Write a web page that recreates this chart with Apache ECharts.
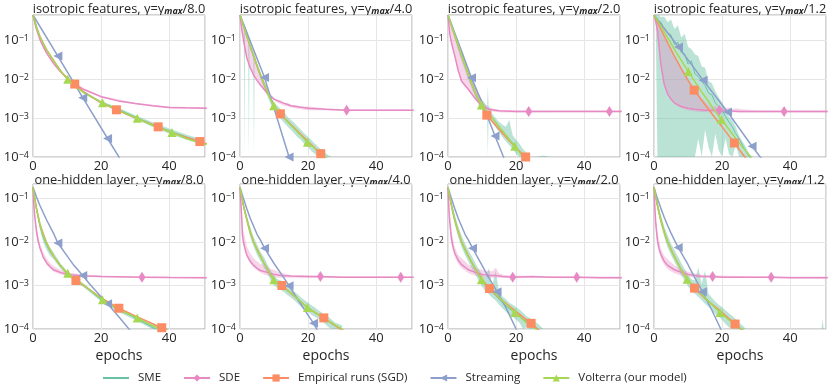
<!DOCTYPE html>
<html><head><meta charset="utf-8">
<script src="https://cdn.jsdelivr.net/npm/echarts@6/dist/echarts.min.js"></script>
<style>html,body{margin:0;padding:0;background:#fff}#c{width:830px;height:389px}</style>
</head><body><div id="c"></div>
<script>
// ---------------- titles / labels ----------------
const ROW_TITLES = ['isotropic features', 'one-hidden layer'];
const GAMMA_DIV = ['8.0', '4.0', '2.0', '1.2'];
const LEGEND_NAMES = ['SME', 'SDE', 'Empirical runs (SGD)', 'Streaming', 'Volterra (our model)'];
const X_TICKS = [0, 20, 40];

// ---------------- panel 1: isotropic, /8.0 ----------------
const p1_volX = [0,1,2,3,4,6,8,10.2,12,15,20.4,25,30.6,35,40.8,45,51];
const p1_volY = [0.46,0.22,0.13,0.085,0.058,0.031,0.017,0.0102,0.0071,0.0045,0.0025,0.0016,0.001,0.00066,0.00043,0.0003,0.00021];
const p1_volMk = [10.2,20.4,30.6,40.8];
const p1_sgdX = [0,1,2,3,4,6,8,10,12.25,15,20,24.5,30,36.75,40,45,49,51];
const p1_sgdY = [0.46,0.22,0.13,0.085,0.058,0.031,0.017,0.0105,0.0076,0.0047,0.0025,0.00165,0.00102,0.0006,0.00045,0.00032,0.00025,0.00022];
const p1_sgdMk = [12.25,24.5,36.75,49];
const p1_strX = [0,7.3,14.6,21.9,29.2];
const p1_strY = [0.46,0.04,0.0034,0.0003,0.000027];
const p1_strMk = [7.3,14.6,21.9];
const p1_sdeX = [0,0.5,1,2,3,4,6,8,10,12,15,20,25,30,35,40,45,51];
const p1_sdeY = [0.46,0.3,0.2,0.11,0.07,0.048,0.026,0.016,0.011,0.0078,0.0055,0.0036,0.0028,0.0024,0.0021,0.0019,0.00185,0.0018];
const p1_sdeMk = [];
const p1_sdeBX = [0,1,2,4,6,8,10,15,20,30,40,51];
const p1_sdeLo = [0.45,0.19,0.105,0.046,0.025,0.0153,0.0105,0.0052,0.0034,0.0023,0.0018,0.0017];
const p1_sdeHi = [0.47,0.21,0.115,0.05,0.027,0.0167,0.0115,0.0058,0.0038,0.0025,0.002,0.0019];
const p1_smeX = [0,2,4,6,8,10,12,15,20,25,30,35,40,45,50];
const p1_smeY = [0.46,0.13,0.058,0.031,0.017,0.0105,0.0073,0.0046,0.0026,0.0017,0.00108,0.0007,0.00047,0.00033,0.00024];
const p1_smeLo = [0.44,0.12,0.054,0.029,0.016,0.0098,0.0068,0.0043,0.0024,0.0015,0.00095,0.0006,0.0004,0.00028,0.0002];
const p1_smeHi = [0.48,0.14,0.062,0.033,0.018,0.0112,0.0078,0.005,0.0028,0.0019,0.0012,0.0008,0.00054,0.00038,0.00028];

// ---------------- panel 2: isotropic, /4.0 ----------------
const p2_volX = [0,2,4,6,8,9.9,12,15,19.8,25,30];
const p2_volY = [0.46,0.13,0.04,0.013,0.0048,0.0021,0.00125,0.00066,0.00024,0.0001,0.000045];
const p2_volMk = [9.9,19.8];
const p2_sgdX = [0,2,4,6,8,10,11.85,15,20,23.7,27];
const p2_sgdY = [0.46,0.13,0.04,0.013,0.0048,0.0021,0.0013,0.00068,0.00025,0.000122,0.00006];
const p2_sgdMk = [11.85,23.7];
const p2_strX = [0,2,4,6,7.2,8,10,12,14.4,16];
const p2_strY = [0.46,0.164,0.058,0.021,0.0112,0.0066,0.0018,0.00048,0.0001,0.000035];
const p2_strMk = [7.2,14.4];
const p2_sdeX = [0,0.5,1,1.5,2,3,4,5,6,8,10,12,15,20,25,31.3,40,51];
const p2_sdeY = [0.46,0.2,0.11,0.06,0.036,0.02,0.013,0.0095,0.0072,0.0044,0.0031,0.0026,0.0021,0.0018,0.0017,0.0016,0.0016,0.0016];
const p2_sdeMk = [31.3];
const p2_sdeBX = [0,1,2,3,4,5,6,7,8,9,10,11,12,13,14,15,16,18,20,25,30,40,51];
const p2_sdeLo = [0.45,0.1,0.034,0.019,0.012,0.009,0.0068,0.0055,0.0042,0.0035,0.0029,0.0025,0.0023,0.0021,0.002,0.0019,0.0018,0.0017,0.0016,0.0016,0.00155,0.00155,0.00155];
const p2_sdeHi = [0.46,0.25,0.14,0.075,0.042,0.025,0.015,0.009,0.0058,0.0042,0.0034,0.003,0.0029,0.0024,0.0025,0.0022,0.0022,0.002,0.002,0.0018,0.0017,0.00168,0.00168];
const p2_smeX = [0,1,1.1,1.3,1.5,2,2.4,2.6,2.8,3,3.5,3.9,4.1,4.3,5,6,7,8,9,10,11,12,13,14,15,16,17,18,19,20,21,22,23,24,25,26,27,28];
const p2_smeY = [0.46,0.25,0.24,0.22,0.2,0.13,0.11,0.1,0.085,0.07,0.055,0.043,0.04,0.036,0.022,0.013,0.0078,0.0048,0.003,0.0021,0.0016,0.00125,0.001,0.0008,0.00066,0.00054,0.00044,0.00036,0.00029,0.00024,0.0002,0.00016,0.00013,0.00011,0.0001,0.00008,0.000065,0.00005];
const p2_smeLo = [0.42,0.22,0.21,1e-6,0.18,0.11,0.095,1e-6,0.075,0.06,0.047,0.036,1e-6,0.03,0.018,0.0105,0.006,0.0038,0.0023,0.0016,0.0012,0.00095,0.00075,0.0006,0.0005,0.0004,0.00032,0.00027,0.00021,0.00018,0.00014,0.00012,0.0001,0.00008,0.00007,0.00006,0.00005,0.00004];
const p2_smeHi = [0.5,0.29,0.28,0.27,0.25,0.16,0.13,0.12,0.1,0.085,0.065,0.052,0.05,0.045,0.027,0.016,0.0095,0.006,0.0036,0.0026,0.0021,0.0017,0.0014,0.0011,0.0009,0.00075,0.0006,0.00049,0.0004,0.00033,0.00027,0.00022,0.00018,0.00015,0.00013,0.00011,0.00009,0.00007];

// ---------------- panel 3: isotropic, /2.0 ----------------
const p3_volX = [0,2,4,6,8,9.8,12,15,19.6,22,25];
const p3_volY = [0.46,0.14,0.042,0.013,0.0045,0.0022,0.0013,0.0006,0.00019,0.0001,0.00005];
const p3_volMk = [9.8,19.6];
const p3_sgdX = [0,2,4,6,8,10,11.4,14,17,20,22.8,25];
const p3_sgdY = [0.46,0.14,0.042,0.013,0.0045,0.0019,0.0012,0.00065,0.00033,0.00017,0.0001,0.00006];
const p3_sgdMk = [11.4,22.8];
const p3_strX = [0,2,4,6.9,10,13.8,16.3,18];
const p3_strY = [0.46,0.156,0.053,0.011,0.0025,0.00035,0.0001,0.00004];
const p3_strMk = [6.9,13.8];
const p3_sdeX = [0,0.5,1,2,3,4,6,8,10,12,15,20,23.7,30,40,47.4,51];
const p3_sdeY = [0.46,0.15,0.09,0.04,0.017,0.009,0.0055,0.0032,0.0021,0.0017,0.00155,0.0015,0.0015,0.0015,0.0015,0.0015,0.0015];
const p3_sdeMk = [23.7,47.4];
const p3_sdeBX = [0,1,2,3,4,5,6,7,8,9,10,11,12,13,14,16,20,30,51];
const p3_sdeLo = [0.44,0.085,0.038,0.016,0.0085,0.0065,0.0052,0.004,0.003,0.0025,0.002,0.0017,0.0016,0.0015,0.00145,0.0014,0.0014,0.00142,0.00142];
const p3_sdeHi = [0.46,0.26,0.15,0.08,0.045,0.026,0.016,0.011,0.0075,0.0045,0.003,0.0022,0.0019,0.0018,0.0017,0.0016,0.0016,0.0016,0.0016];
const p3_smeX = [0,1,2,3,4,5,6,7,8,9,10,11,11.5,11.7,11.9,12.5,13,14,15,16,17,18,19,20,21,22,23,24,25,26,28,30];
const p3_smeY = [0.46,0.26,0.14,0.075,0.042,0.023,0.013,0.0078,0.0045,0.0029,0.0021,0.0016,0.0015,0.0014,0.0014,0.0012,0.001,0.0008,0.0006,0.00047,0.00037,0.00029,0.00023,0.00018,0.00014,0.0001,0.00008,0.00006,0.00005,0.00004,0.00003,0.00002];
const p3_smeLo = [0.42,0.2,0.11,0.055,0.03,0.017,0.0095,0.0058,0.0035,0.0022,0.0016,0.0012,0.0011,1e-6,0.001,0.0009,0.00075,0.00058,0.00043,0.00033,0.00025,0.0002,0.00016,0.00012,0.00009,0.00007,0.00006,0.00005,0.00004,0.00003,0.00002,0.00002];
const p3_smeHi = [0.48,0.3,0.17,0.1,0.055,0.031,0.018,0.011,0.0065,0.0042,0.003,0.0023,0.0021,0.007,0.0021,0.0017,0.0013,0.001,0.0008,0.00068,0.0006,0.0009,0.00036,0.00028,0.00022,0.00016,0.00013,0.0001,0.00009,0.00007,0.00011,0.00006];

// ---------------- panel 4: isotropic, /1.2 ----------------
const p4_volX = [0,2,4,6,8,10.1,12,14,16,18,19.8,22,24,26,28,30];
const p4_volY = [0.46,0.24,0.12,0.06,0.031,0.016,0.0088,0.0048,0.0027,0.0015,0.00093,0.00052,0.0003,0.00018,0.00011,0.00006];
const p4_volMk = [10.1,19.8];
const p4_sgdX = [0,2,4,6,8,10,11.8,14,16,18,20,22,23.6,26,28];
const p4_sgdY = [0.46,0.2,0.088,0.04,0.019,0.0095,0.0053,0.0029,0.0017,0.001,0.0006,0.00035,0.00023,0.00012,0.00007];
const p4_sgdMk = [11.8,23.6];
const p4_strX = [0,7.2,14.4,21.6,28.8,32];
const p4_strY = [0.46,0.069,0.0096,0.00145,0.00019,0.00008];
const p4_strMk = [7.2,14.4,21.6,28.8];
const p4_sdeX = [0,0.5,1,1.5,2,3,4,5,6,8,10,12,15,19.2,25,30,38.2,51];
const p4_sdeY = [0.46,0.32,0.19,0.07,0.025,0.0075,0.0042,0.0031,0.0025,0.002,0.0018,0.0017,0.0016,0.0016,0.0015,0.0015,0.0015,0.0015];
const p4_sdeMk = [19.2,38.2];
const p4_sdeBX = [0,1,2,3,4,6,8,10,12,14,16,17,18,19,20,21,22,23,24,26,30,40,51];
const p4_sdeLo = [0.45,0.15,0.022,0.0068,0.0039,0.0023,0.0018,0.0016,0.0015,0.00145,0.00142,0.00142,0.0014,0.0014,0.0014,0.0014,0.0014,0.0014,0.0014,0.0014,0.0014,0.0014,0.0014];
const p4_sdeHi = [0.46,0.33,0.2,0.13,0.09,0.042,0.02,0.0105,0.0058,0.0034,0.0022,0.0019,0.0021,0.0019,0.002,0.0018,0.0019,0.0017,0.0018,0.0017,0.0016,0.0016,0.0016];
const p4_smeX = [0,0.5,1,1.5,2,3,4,5,6,7,8,9,10,11,12,13,14,15,16,17,18,19,20,21,22,23,24,25,26,27,28,29];
const p4_smeY = [0.46,0.38,0.32,0.3,0.3,0.2,0.16,0.14,0.08,0.09,0.05,0.045,0.025,0.03,0.014,0.012,0.009,0.007,0.0045,0.004,0.0025,0.002,0.0016,0.0011,0.0008,0.0006,0.0004,0.0003,0.0002,0.00014,0.0001,0.00007];
const p4_smeLo = [0.44,0.3,1e-6,1e-6,1e-6,1e-6,1e-6,1e-6,1e-6,1e-6,1e-6,1e-6,1e-6,1e-6,1e-6,0.0003,1e-6,0.0005,0.00018,1e-6,0.0004,0.00015,1e-6,0.0003,0.00012,1e-6,0.0002,0.0001,1e-6,0.00008,0.00006,0.00005];
const p4_smeHi = [0.47,0.46,0.46,0.46,0.4,0.42,0.3,0.35,0.2,0.25,0.12,0.15,0.07,0.06,0.045,0.04,0.022,0.02,0.009,0.008,0.005,0.0035,0.0025,0.0018,0.0011,0.0009,0.0006,0.00035,0.00025,0.00018,0.00012,0.00009];

// ---------------- panel 5: one-hidden layer, /8.0 ----------------
const p5_volX = [0,0.5,1,2,3,4,6,8,10.2,12,15,20.4,25,30.6,35,40,45,51];
const p5_volY = [0.18,0.1,0.06,0.026,0.014,0.0092,0.0048,0.0029,0.0019,0.0015,0.001,0.00047,0.00028,0.00018,0.00012,0.00008,0.00005,0.00003];
const p5_volMk = [10.2,20.4,30.6];
const p5_sgdX = [0,1,2,4,6,8,10,12.6,15,20,25.2,30,37.8,40,45];
const p5_sgdY = [0.18,0.06,0.026,0.0092,0.0048,0.0029,0.0019,0.0013,0.00098,0.00052,0.0003,0.0002,0.000107,0.00009,0.00007];
const p5_sgdMk = [12.6,25.2,37.8];
const p5_strX = [0,1,2,4,6,7.3,10,12,14.6,17,20,21.9,25,29.2];
const p5_strY = [0.18,0.11,0.07,0.032,0.016,0.0095,0.0048,0.0029,0.0017,0.001,0.00055,0.00038,0.0002,0.00008];
const p5_strMk = [7.3,14.6,21.9];
const p5_sdeX = [0,0.25,0.5,1,1.5,2,3,4,5,6,8,10,15,20,25,32,40,51];
const p5_sdeY = [0.18,0.07,0.04,0.018,0.0105,0.0075,0.0045,0.0033,0.0027,0.0023,0.002,0.0018,0.00165,0.0016,0.00158,0.00155,0.00152,0.0015];
const p5_sdeMk = [32];
const p5_sdeBX = [0,0.5,1,2,3,4,5,6,8,10,15,20,30,51];
const p5_sdeLo = [0.17,0.034,0.015,0.0065,0.0041,0.003,0.0025,0.0021,0.0018,0.0017,0.0016,0.00155,0.0015,0.00145];
const p5_sdeHi = [0.19,0.05,0.024,0.0095,0.0058,0.0042,0.0033,0.0028,0.0023,0.002,0.0018,0.0017,0.0016,0.00158];
const p5_smeX = [0,1,2,3,4,5,6,8,10,12,15,20,25,30,35,40];
const p5_smeY = [0.18,0.058,0.024,0.013,0.0085,0.006,0.0047,0.0029,0.0019,0.0014,0.00098,0.00047,0.00028,0.00018,0.00011,0.00007];
const p5_smeLo = [0.17,0.05,0.02,0.01,0.0065,0.0048,0.004,0.0025,0.0017,0.0013,0.0009,0.00043,0.00025,0.00016,0.0001,0.00007];
const p5_smeHi = [0.19,0.065,0.03,0.017,0.011,0.0075,0.0058,0.0033,0.0021,0.0016,0.0011,0.00052,0.00031,0.0002,0.00013,0.00009];

// ---------------- panel 6: one-hidden layer, /4.0 ----------------
const p6_volX = [0,0.5,1,2,3,4,5,6,8,9.9,12,15,19.8,25,29.7,33];
const p6_volY = [0.18,0.11,0.07,0.033,0.017,0.01,0.0066,0.0047,0.0024,0.00135,0.001,0.00067,0.00031,0.00017,0.000102,0.00007];
const p6_volMk = [9.9,19.8];
const p6_sgdX = [0,1,2,3,4,6,8,10,12.3,15,20,24.6,28,31];
const p6_sgdY = [0.18,0.07,0.033,0.017,0.01,0.0047,0.0024,0.0013,0.001,0.00066,0.0003,0.00018,0.00012,0.00008];
const p6_sgdMk = [12.3,24.6];
const p6_strX = [0,1,2,3,4,5,6,7.2,10,12,14.4,17,21.6,24];
const p6_strY = [0.18,0.1,0.058,0.035,0.023,0.015,0.011,0.0072,0.0032,0.0019,0.00099,0.00047,0.000135,0.00006];
const p6_strMk = [7.2,14.4,21.6];
const p6_sdeX = [0,0.25,0.5,0.7,1,1.5,2,3,4,5,6,8,10,12,15,20,23.6,30,40,47.2,51];
const p6_sdeY = [0.18,0.08,0.035,0.015,0.01,0.0068,0.005,0.0036,0.0029,0.0025,0.0022,0.002,0.0018,0.0017,0.00165,0.0016,0.0016,0.00155,0.00155,0.00155,0.00155];
const p6_sdeMk = [23.6,47.2];
const p6_sdeBX = [0,0.5,1,2,3,4,5,6,7,8,9,10,11,12,13,14,16,20,30,51];
const p6_sdeLo = [0.17,0.028,0.009,0.0045,0.0032,0.0026,0.0022,0.002,0.0018,0.0017,0.0016,0.0016,0.0015,0.0015,0.0015,0.0015,0.0015,0.00148,0.00148,0.00148];
const p6_sdeHi = [0.19,0.05,0.018,0.008,0.0055,0.0042,0.0036,0.0031,0.003,0.0027,0.0024,0.0023,0.0021,0.002,0.0019,0.0018,0.0017,0.0017,0.0016,0.0016];
const p6_smeX = [0,1,2,3,4,5,6,7,8,9,10,11,12,13,14,15,16,17,18,19,20,21,22,23,24,25,26,27,28,29,30];
const p6_smeY = [0.18,0.07,0.033,0.017,0.01,0.0066,0.0047,0.0034,0.0024,0.0017,0.0013,0.0011,0.001,0.0009,0.00075,0.00067,0.00057,0.00048,0.0004,0.00035,0.00031,0.00027,0.00024,0.00021,0.00019,0.00017,0.00015,0.00013,0.00012,0.00011,0.0001];
const p6_smeLo = [0.17,0.058,0.027,0.013,0.0078,0.005,0.0036,0.0026,0.0019,0.0013,0.001,0.00088,0.00078,0.0007,0.0006,0.00053,0.00045,0.00038,0.00032,0.00028,0.00025,0.00021,0.00019,0.00017,0.00015,0.00013,0.00011,0.0001,0.00009,0.00008,0.00007];
const p6_smeHi = [0.19,0.08,0.04,0.022,0.013,0.0088,0.006,0.0045,0.0031,0.0022,0.0017,0.0014,0.0013,0.0011,0.001,0.00085,0.00072,0.00062,0.00052,0.00046,0.0004,0.00035,0.00031,0.00027,0.00024,0.00021,0.00019,0.00016,0.00014,0.00013,0.00012];

// ---------------- panel 7: one-hidden layer, /2.0 ----------------
const p7_volX = [0,0.5,1,2,3,4,5,6,8,9.8,12,15,19.6,23,27,30];
const p7_volY = [0.18,0.11,0.07,0.032,0.017,0.01,0.0066,0.0047,0.0024,0.00135,0.0009,0.00053,0.00024,0.00014,0.000085,0.00006];
const p7_volMk = [9.8,19.6];
const p7_sgdX = [0,1,2,3,4,6,8,10,12.2,15,20,24.4,27];
const p7_sgdY = [0.18,0.07,0.032,0.017,0.01,0.0047,0.0024,0.0014,0.00085,0.00052,0.00025,0.000135,0.00009];
const p7_sgdMk = [12.2,24.4];
const p7_strX = [0,1,2,3,4,5,6,7.2,10,12,14.4,17,20,22];
const p7_strY = [0.18,0.1,0.058,0.035,0.023,0.015,0.011,0.0072,0.0029,0.0015,0.00072,0.00031,0.0001,0.00005];
const p7_strMk = [7.2,14.4];
const p7_sdeX = [0,0.25,0.5,1,1.5,2,3,4,6,8,10,12,14,16,19,25,30,37.8,45,51];
const p7_sdeY = [0.18,0.06,0.03,0.012,0.0075,0.0055,0.0038,0.003,0.0023,0.002,0.0018,0.0017,0.0017,0.0016,0.00155,0.0016,0.00155,0.00155,0.0015,0.0015];
const p7_sdeMk = [19,37.8];
const p7_sdeBX = [0,0.5,1,2,3,4,5,6,7,8,9,10,11,12,13,14,15,16,18,20,30,51];
const p7_sdeLo = [0.17,0.022,0.009,0.0045,0.0031,0.0025,0.0022,0.0019,0.0018,0.0017,0.0016,0.0016,0.0015,0.0015,0.0015,0.0015,0.0015,0.0015,0.0015,0.00148,0.00148,0.00145];
const p7_sdeHi = [0.19,0.045,0.018,0.0075,0.005,0.0042,0.0036,0.003,0.0028,0.0025,0.0024,0.0023,0.0021,0.0022,0.0021,0.0026,0.0019,0.0018,0.0017,0.0017,0.0016,0.0016];
const p7_smeX = [0,1,2,3,4,5,6,7,8,9,10,11,12,13,14,15,16,17,18,19,20,21,22,23,24,25,26,27,28];
const p7_smeY = [0.18,0.07,0.032,0.017,0.01,0.0066,0.0047,0.0034,0.0024,0.0017,0.0013,0.001,0.00085,0.0007,0.0006,0.00048,0.0004,0.00034,0.00029,0.00026,0.00023,0.0002,0.00017,0.00015,0.00013,0.00012,0.0001,0.00009,0.00008];
const p7_smeLo = [0.17,0.055,0.025,0.013,0.0075,0.005,0.0035,0.0025,0.0018,0.0013,0.00095,0.00075,0.00063,0.00052,0.00045,0.00036,0.0003,0.00025,0.00021,0.00019,0.00016,0.00014,1e-6,0.00011,0.00009,1e-6,0.00007,0.00006,0.00005];
const p7_smeHi = [0.19,0.085,0.042,0.023,0.014,0.0092,0.0065,0.0047,0.0033,0.0024,0.0018,0.0015,0.0025,0.001,0.0022,0.00068,0.00056,0.00048,0.0004,0.00036,0.00032,0.00028,0.00024,0.0002,0.00018,0.00016,0.00014,0.00012,0.0001];

// ---------------- panel 8: one-hidden layer, /1.2 ----------------
const p8_volX = [0,0.5,1,2,3,4,5,6,8,9.7,12,15,19.4,23,27,30];
const p8_volY = [0.18,0.11,0.07,0.032,0.017,0.01,0.0066,0.0046,0.0023,0.0014,0.0009,0.00052,0.00024,0.00014,0.000085,0.00006];
const p8_volMk = [9.7,19.4];
const p8_sgdX = [0,1,2,3,4,6,8,10,11.9,15,20,23.8,27];
const p8_sgdY = [0.18,0.07,0.032,0.017,0.01,0.0046,0.0023,0.0013,0.00087,0.0005,0.00024,0.00013,0.00008];
const p8_sgdMk = [11.9,23.8];
const p8_strX = [0,1,2,3,4,5,6,7.1,10,12,14.2,17,19.6,22];
const p8_strY = [0.18,0.1,0.06,0.037,0.024,0.016,0.011,0.0075,0.003,0.0015,0.00072,0.00027,0.0001,0.00004];
const p8_strMk = [7.1,14.2];
const p8_sdeX = [0,0.25,0.5,1,1.5,2,3,4,6,8,10,12,14,17.2,20,25,34.4,40,51];
const p8_sdeY = [0.18,0.06,0.028,0.011,0.007,0.0052,0.0036,0.0029,0.0023,0.002,0.0018,0.0017,0.0016,0.0016,0.00155,0.00155,0.00155,0.0015,0.0015];
const p8_sdeMk = [17.2,34.4];
const p8_sdeBX = [0,0.5,1,2,3,4,5,6,7,8,9,10,12,14,16,20,30,51];
const p8_sdeLo = [0.17,0.02,0.008,0.0042,0.003,0.0024,0.0021,0.0019,0.0018,0.0017,0.0016,0.0016,0.0015,0.0015,0.0015,0.00148,0.00148,0.00145];
const p8_sdeHi = [0.19,0.04,0.017,0.007,0.0048,0.004,0.0034,0.0029,0.0026,0.0024,0.0022,0.0021,0.0019,0.0018,0.0017,0.0017,0.0016,0.0016];
const p8_smeX = [0,1,2,3,4,5,6,7,8,9,10,11,12,13,14,15,16,17,18,19,20,21,22,23,24,25,26,27,28,30,49.2,49.5,49.8,51];
const p8_smeY = [0.18,0.07,0.032,0.017,0.01,0.0066,0.0046,0.0033,0.0023,0.0017,0.0013,0.001,0.0009,0.00075,0.00063,0.00052,0.00044,0.00037,0.00031,0.00027,0.00024,0.0002,0.00017,0.00014,0.00012,0.0001,0.00009,0.000085,0.00007,0.00005,0.00002,0.00002,0.00002,0.00002];
const p8_smeLo = [0.17,0.055,0.025,0.013,0.0075,0.005,0.0035,0.0025,0.0017,0.0013,0.00095,0.00075,0.00065,0.00055,0.00046,0.00038,0.00032,0.00027,0.00022,0.00019,0.00016,0.00013,0.00011,1e-6,0.00009,0.00007,0.00006,0.00005,0.00004,0.00002,0.00002,0.00002,0.00002,0.00002];
const p8_smeHi = [0.19,0.085,0.042,0.023,0.014,0.0092,0.0065,0.0047,0.0033,0.0024,0.0018,0.0014,0.0013,0.0026,0.0011,0.0022,0.00065,0.00052,0.00043,0.00036,0.00032,0.00027,0.00023,0.0002,0.00017,0.00014,0.00012,0.0001,0.00009,0.00005,0.00005,0.00017,0.00005,0.00005];

// ---------------- assembly ----------------
const PANELS = [
  {sme:[p1_smeX,p1_smeY,p1_smeLo,p1_smeHi], sde:[p1_sdeX,p1_sdeY,p1_sdeMk,p1_sdeBX,p1_sdeLo,p1_sdeHi], sgd:[p1_sgdX,p1_sgdY,p1_sgdMk], str:[p1_strX,p1_strY,p1_strMk], vol:[p1_volX,p1_volY,p1_volMk]},
  {sme:[p2_smeX,p2_smeY,p2_smeLo,p2_smeHi], sde:[p2_sdeX,p2_sdeY,p2_sdeMk,p2_sdeBX,p2_sdeLo,p2_sdeHi], sgd:[p2_sgdX,p2_sgdY,p2_sgdMk], str:[p2_strX,p2_strY,p2_strMk], vol:[p2_volX,p2_volY,p2_volMk]},
  {sme:[p3_smeX,p3_smeY,p3_smeLo,p3_smeHi], sde:[p3_sdeX,p3_sdeY,p3_sdeMk,p3_sdeBX,p3_sdeLo,p3_sdeHi], sgd:[p3_sgdX,p3_sgdY,p3_sgdMk], str:[p3_strX,p3_strY,p3_strMk], vol:[p3_volX,p3_volY,p3_volMk]},
  {sme:[p4_smeX,p4_smeY,p4_smeLo,p4_smeHi], sde:[p4_sdeX,p4_sdeY,p4_sdeMk,p4_sdeBX,p4_sdeLo,p4_sdeHi], sgd:[p4_sgdX,p4_sgdY,p4_sgdMk], str:[p4_strX,p4_strY,p4_strMk], vol:[p4_volX,p4_volY,p4_volMk]},
  {sme:[p5_smeX,p5_smeY,p5_smeLo,p5_smeHi], sde:[p5_sdeX,p5_sdeY,p5_sdeMk,p5_sdeBX,p5_sdeLo,p5_sdeHi], sgd:[p5_sgdX,p5_sgdY,p5_sgdMk], str:[p5_strX,p5_strY,p5_strMk], vol:[p5_volX,p5_volY,p5_volMk]},
  {sme:[p6_smeX,p6_smeY,p6_smeLo,p6_smeHi], sde:[p6_sdeX,p6_sdeY,p6_sdeMk,p6_sdeBX,p6_sdeLo,p6_sdeHi], sgd:[p6_sgdX,p6_sgdY,p6_sgdMk], str:[p6_strX,p6_strY,p6_strMk], vol:[p6_volX,p6_volY,p6_volMk]},
  {sme:[p7_smeX,p7_smeY,p7_smeLo,p7_smeHi], sde:[p7_sdeX,p7_sdeY,p7_sdeMk,p7_sdeBX,p7_sdeLo,p7_sdeHi], sgd:[p7_sgdX,p7_sgdY,p7_sgdMk], str:[p7_strX,p7_strY,p7_strMk], vol:[p7_volX,p7_volY,p7_volMk]},
  {sme:[p8_smeX,p8_smeY,p8_smeLo,p8_smeHi], sde:[p8_sdeX,p8_sdeY,p8_sdeMk,p8_sdeBX,p8_sdeLo,p8_sdeHi], sgd:[p8_sgdX,p8_sgdY,p8_sgdMk], str:[p8_strX,p8_strY,p8_strMk], vol:[p8_volX,p8_volY,p8_volMk]}
];

// ---------------- layout & style ----------------
const FONT = 'Open Sans';
const TXT = '#262626';
const C = {sme:'#66c2a5', sde:'#e78ac3', sgd:'#fc8d62', str:'#8da0cb', vol:'#a6d854'};
const COL_LEFT = [33, 240, 448, 654];
const PLOT_W = 172;
const ROW_LAYOUT = [{top:15, h:142, ymax:0.46, titleY:9}, {top:184, h:145, ymax:0.215, titleY:180}];
const YMIN = 1e-4, XMAX = 50.5;

function lineData(xs, ys, mk) {
  return xs.map((x, k) => (mk && mk.indexOf(x) >= 0) ? {value:[x, ys[k]]} : {value:[x, ys[k]], symbol:'none'});
}
function band(i, xs, lo, hi, color, op, ymax) {
  return {
    type:'custom', xAxisIndex:i, yAxisIndex:i, silent:true, z:1,
    data:[[xs[0], Math.min(hi[0], ymax)]],
    renderItem: function (params, api) {
      const cl = v => Math.min(Math.max(v, YMIN), ymax);
      const pts = [];
      for (let k = 0; k < xs.length; k++) pts.push(api.coord([xs[k], cl(hi[k])]));
      for (let k = xs.length - 1; k >= 0; k--) pts.push(api.coord([xs[k], cl(lo[k])]));
      return {type:'polygon', shape:{points:pts}, style:{fill:color, opacity:op}};
    }
  };
}
function line(i, name, xs, ys, mk, color, width, symbol, size, rot) {
  return {
    type:'line', name:name, xAxisIndex:i, yAxisIndex:i, z:2,
    data: lineData(xs, ys, mk),
    showSymbol:true, showAllSymbol:true, symbol:symbol, symbolSize:size, symbolRotate:rot || 0,
    smooth:false,
    lineStyle:{color:color, width:width}, itemStyle:{color:color},
    emphasis:{disabled:true}, clip:true
  };
}

const grids = [], xAxes = [], yAxes = [], series = [], graphics = [];
PANELS.forEach((P, i) => {
  const r = Math.floor(i / 4), c = i % 4;
  const L = ROW_LAYOUT[r];
  grids.push({left:COL_LEFT[c], top:L.top, width:PLOT_W, height:L.h, show:true, borderColor:'#a8a8a8', borderWidth:1, backgroundColor:'transparent'});
  xAxes.push({
    type:'value', gridIndex:i, min:0, max:XMAX, interval:20,
    axisLine:{show:false}, axisTick:{show:false},
    splitLine:{show:true, lineStyle:{color:'#e6e6e6', width:1}},
    axisLabel:{fontSize:13, color:TXT, fontFamily:FONT, margin:3,
      formatter: v => (X_TICKS.indexOf(v) >= 0 ? String(v) : '')},
    name: r === 1 ? 'epochs' : '', nameLocation:'middle', nameGap:20,
    nameTextStyle:{fontSize:14, color:TXT, fontFamily:FONT}
  });
  yAxes.push({
    type:'log', logBase:10, gridIndex:i, min:YMIN, max:L.ymax,
    axisLine:{show:false}, axisTick:{show:false}, minorTick:{show:false},
    splitLine:{show:true, lineStyle:{color:'#e6e6e6', width:1}},
    axisLabel:{margin:4, fontFamily:FONT,
      formatter: v => { const lg = Math.log10(v), e = Math.round(lg); if (Math.abs(lg - e) > 1e-6) return ''; return '{b|10}{s|\u2212' + (-e) + '}'; },
      rich:{ b:{fontSize:13, color:TXT, fontFamily:FONT}, s:{fontSize:9, color:TXT, fontFamily:FONT, verticalAlign:'top'} }
    }
  });
  series.push(band(i, P.sme[0], P.sme[2], P.sme[3], C.sme, 0.45, L.ymax));
  series.push(band(i, P.sde[3], P.sde[4], P.sde[5], C.sde, 0.35, L.ymax));
  series.push(line(i, LEGEND_NAMES[0], P.sme[0], P.sme[1], null, C.sme, 1, 'none', 0, 0));
  series.push(line(i, LEGEND_NAMES[1], P.sde[0], P.sde[1], P.sde[2], C.sde, 1.5, 'diamond', [7, 11], 0));
  series.push(line(i, LEGEND_NAMES[2], P.sgd[0], P.sgd[1], P.sgd[2], C.sgd, 1.5, 'rect', 9, 0));
  series.push(line(i, LEGEND_NAMES[3], P.str[0], P.str[1], P.str[2], C.str, 1.5, 'triangle', 9, 90));
  series.push(line(i, LEGEND_NAMES[4], P.vol[0], P.vol[1], P.vol[2], C.vol, 1.5, 'triangle', 9, 0));
  graphics.push({
    type:'text', x: COL_LEFT[c] + PLOT_W / 2, y: L.titleY, silent:true,
    style:{
      text:'{n|' + ROW_TITLES[r] + ', \u03b3=\u03b3}{m|max}{n|/' + GAMMA_DIV[c] + '}',
      align:'center', verticalAlign:'middle',
      rich:{ n:{fontSize:12.8, fill:TXT, fontFamily:FONT}, m:{fontSize:9, fill:TXT, fontFamily:FONT, fontWeight:'bold', fontStyle:'italic', verticalAlign:'bottom'} }
    }
  });
});

const chart = echarts.init(document.getElementById('c'), null, {renderer:'canvas'});
chart.setOption({
  animation:false,
  textStyle:{fontFamily:FONT},
  grid:grids, xAxis:xAxes, yAxis:yAxes, series:series, graphic:graphics,
  legend:{
    data:[{name:LEGEND_NAMES[0], itemStyle:{opacity:0}}, LEGEND_NAMES[1], LEGEND_NAMES[2], LEGEND_NAMES[3], LEGEND_NAMES[4]],
    left:97, top:367, itemWidth:26, itemHeight:9, itemGap:22, selectedMode:false,
    textStyle:{fontSize:11.5, color:TXT, fontFamily:FONT, padding:[0,0,0,4]}
  }
});
</script></body></html>
